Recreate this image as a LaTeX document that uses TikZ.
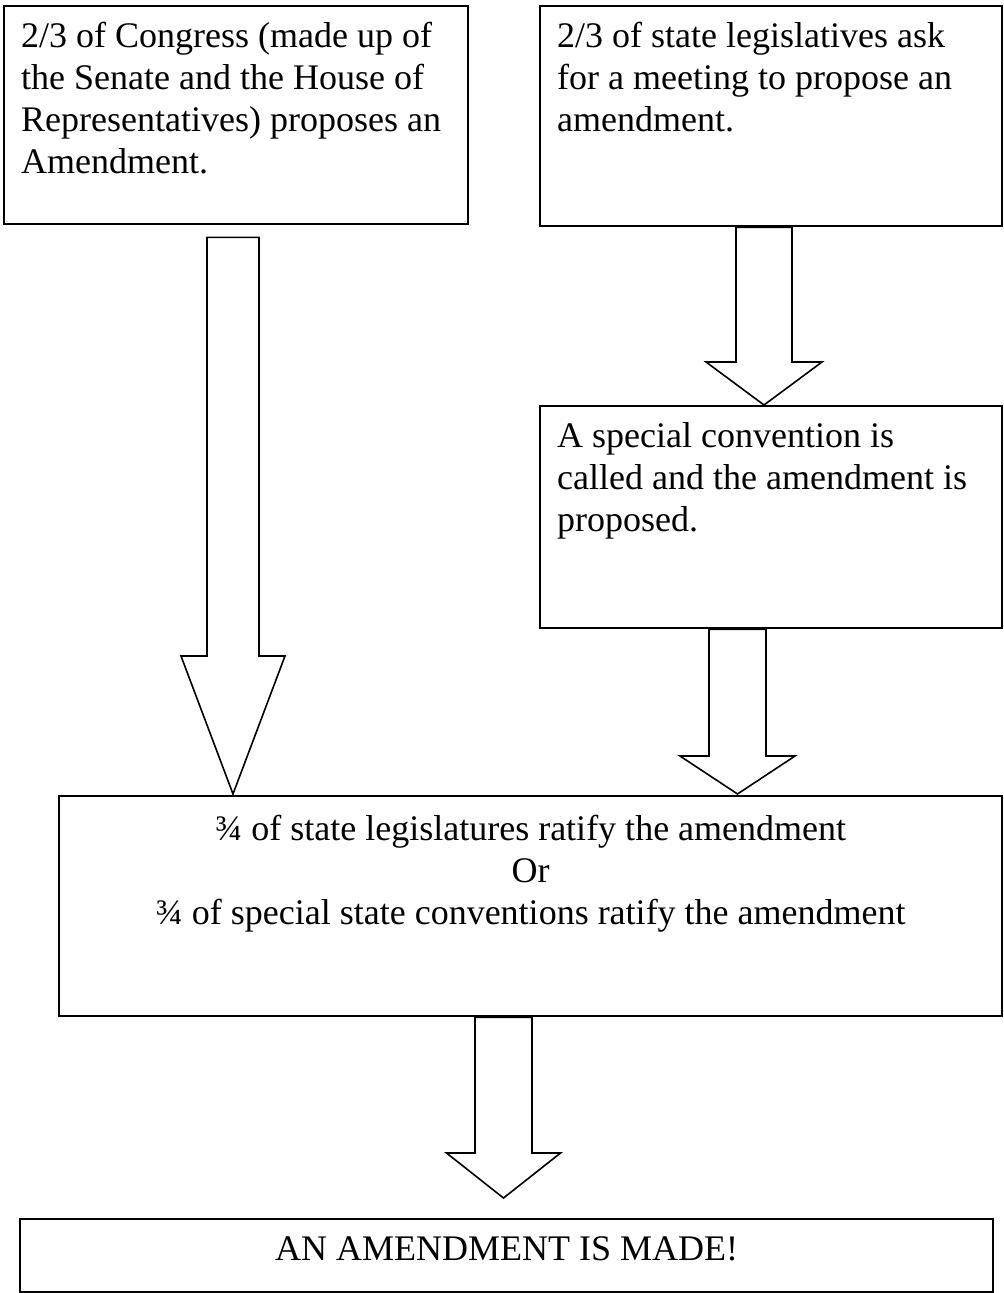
\documentclass[tikz,border=0pt]{standalone}
\usepackage{fontspec}
\setmainfont{Liberation Serif}
\usetikzlibrary{calc}

\tikzset{
  stagebox/.style={draw, line width=1.2pt, anchor=north west, inner xsep=8.5pt, inner ysep=6pt,
    font=\fontsize{18pt}{21pt}\selectfont},
  hollow/.style={draw, line width=0.8pt, line join=miter},
}
% text block of fixed size, set from the top
\newcommand{\boxtext}[3]{\parbox[c][#2][t]{#1}{\raggedright\strut#3}}
% open block arrow: from, to, x, tail gap, tip gap, shaft half, head half, head length
\newcommand{\hollowarrow}[8]{%
  \path (#1.south -| #3) coordinate (tail) (#2.north -| #3) coordinate (tip);
  \draw[hollow] ($(tail)+(-#6,#4)$) -- ($(tip)+(-#6,-#8-#5)$) -- ($(tip)+(-#7,-#8-#5)$)
    -- ($(tip)+(0,-#5)$) -- ($(tip)+(#7,-#8-#5)$) -- ($(tip)+(#6,-#8-#5)$)
    -- ($(tail)+(#6,#4)$) -- cycle;
}

\begin{document}
\begin{tikzpicture}[x=0.5pt, y=-0.5pt]
  \useasboundingbox (0,0) rectangle (1003,1293);

  % proposing
  \node[stagebox] (congress) at (3,5) {\boxtext{215pt}{97pt}{2/3 of Congress (made up of\\
    the Senate and the House of\\ Representatives) proposes an\\ Amendment.}};
  \node[stagebox] (legis) at (539,5) {\boxtext{214pt}{98pt}{2/3 of state legislatives ask\\
    for a meeting to propose an\\ amendment.}};
  \node[stagebox] (convention) at (539,405) {\boxtext{214pt}{99pt}{A special convention is\\
    called and the amendment is\\ proposed.}};

  % ratifying
  \node[stagebox, inner ysep=7.5pt] (ratify) at (58,795) {\parbox[c][95pt][t]{454.5pt}{\centering\strut
    ¾ of state legislatures ratify the amendment\\ Or\\
    ¾ of special state conventions ratify the amendment}};
  \node[stagebox, inner ysep=0pt] (made) at (19,1218) {\parbox[c][36.5pt][c]{469.5pt}{\centering\strut
    AN AMENDMENT IS MADE!\par\vspace{4pt}}};

  % arrows
  \coordinate (ax1) at (233,0);
  \coordinate (ax2) at (764,0);
  \coordinate (ax3) at (737.5,0);
  \coordinate (ax4) at (503.5,0);
  \hollowarrow{congress}{ratify}{ax1}{12}{1}{26}{52}{138}
  \hollowarrow{legis}{convention}{ax2}{0}{0}{28}{58}{43}
  \hollowarrow{convention}{ratify}{ax3}{0}{1}{28.5}{57.5}{38}
  \hollowarrow{ratify}{made}{ax4}{0}{20}{28.5}{57}{45}
\end{tikzpicture}
\end{document}
